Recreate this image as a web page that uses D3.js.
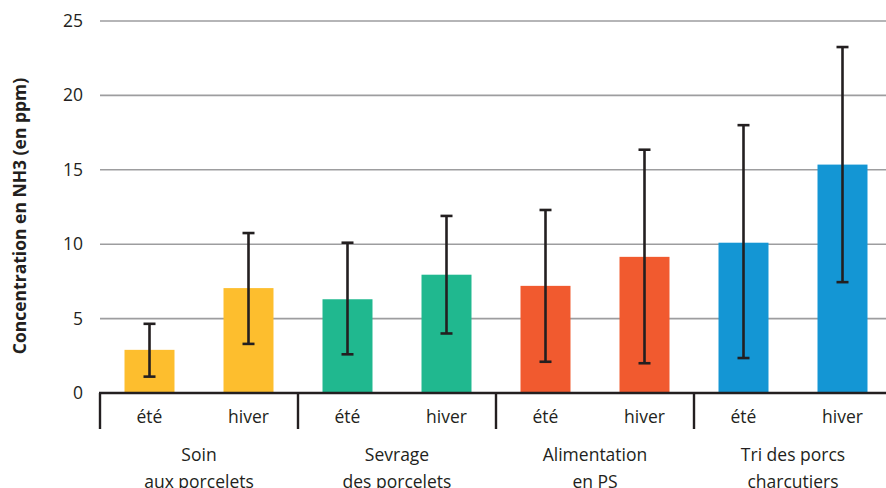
<!DOCTYPE html>
<html>
<head>
<meta charset="utf-8">
<script src="https://cdn.jsdelivr.net/npm/d3@7"></script>
<style>
  body { margin: 0; background: #fff; }
  text { font-family: "Open Sans", "Noto Sans", sans-serif; fill: #231f20; }
</style>
</head>
<body>
<div id="chart"></div>
<script>
var svgWidth = 886;
var svgHeight = 488;

var groups = ["Soin|aux porcelets", "Sevrage|des porcelets", "Alimentation|en PS", "Tri des porcs|charcutiers"];
var seasons = ["été", "hiver"];
var groupColors = ["#fdbe2e", "#20b88f", "#f15a2f", "#1496d4"];

// one entry per bar, in order: group 0 été, group 0 hiver, ...
var means = [2.9, 7.05, 6.3, 7.95, 7.2, 9.15, 10.1, 15.35];
var errLow = [1.1, 3.3, 2.6, 4.0, 2.1, 2.0, 2.35, 7.45];
var errHigh = [4.65, 10.75, 10.1, 11.9, 12.3, 16.35, 18.0, 23.25];

var yTicks = [0, 5, 10, 15, 20, 25];

var margin = { top: 21, left: 100, bottom: 95 };
var plotRight = 892;

var bars = [];
groups.forEach(function (g, gi) {
    seasons.forEach(function (s, si) {
        var i = gi * 2 + si;
        bars.push({ key: i, group: gi, season: s, mean: means[i], lo: errLow[i], hi: errHigh[i] });
    });
});

var svg = d3.select("#chart")
    .append("svg")
    .attr("width", svgWidth)
    .attr("height", svgHeight);

var x = d3.scaleBand()
    .domain(bars.map(d => d.key))
    .range([margin.left, plotRight])
    .paddingInner(0.495)
    .paddingOuter(0.2475);

var xGroup = d3.scaleBand()
    .domain(d3.range(groups.length))
    .range([margin.left, plotRight]);

var y = d3.scaleLinear()
    .domain([0, 25])
    .range([svgHeight - 95, margin.top]);

// gridlines
svg.append("g")
    .selectAll("line")
    .data(yTicks.filter(t => t > 0))
    .enter()
    .append("line")
    .attr("x1", margin.left)
    .attr("x2", svgWidth)
    .attr("y1", d => y(d))
    .attr("y2", d => y(d))
    .attr("stroke", "#9d9d9f")
    .attr("stroke-width", 1.6);

// y tick labels
svg.append("g")
    .selectAll("text")
    .data(yTicks)
    .enter()
    .append("text")
    .attr("x", 83)
    .attr("y", d => y(d) + 6)
    .attr("text-anchor", "end")
    .style("font-size", "17.5px")
    .text(d => d);

// y axis title
svg.append("text")
    .attr("transform", "translate(26," + 216 + ") rotate(-90)")
    .attr("text-anchor", "middle")
    .style("font-size", "17.5px")
    .style("font-weight", "bold")
    .text("Concentration en NH3 (en ppm)");

// bars
svg.append("g")
    .selectAll("rect")
    .data(bars)
    .enter()
    .append("rect")
    .attr("x", d => x(d.key))
    .attr("width", x.bandwidth())
    .attr("y", d => y(d.mean))
    .attr("height", d => y(0) - y(d.mean))
    .attr("fill", d => groupColors[d.group]);

// error bars
var err = svg.append("g")
    .attr("stroke", "#231f20")
    .attr("stroke-width", 2.6);

var cap = 6;
bars.forEach(function (d) {
    var cx = x(d.key) + x.bandwidth() / 2;
    err.append("line")
        .attr("x1", cx).attr("x2", cx)
        .attr("y1", y(d.hi)).attr("y2", y(d.lo));
    err.append("line")
        .attr("x1", cx - cap).attr("x2", cx + cap)
        .attr("y1", y(d.hi)).attr("y2", y(d.hi));
    err.append("line")
        .attr("x1", cx - cap).attr("x2", cx + cap)
        .attr("y1", y(d.lo)).attr("y2", y(d.lo));
});

// baseline + group separators
var axis = svg.append("g")
    .attr("stroke", "#231f20")
    .attr("stroke-width", 2.4);

axis.append("line")
    .attr("x1", margin.left - 1)
    .attr("x2", svgWidth)
    .attr("y1", y(0))
    .attr("y2", y(0));

axis.selectAll(".sep")
    .data(d3.range(groups.length + 1))
    .enter()
    .append("line")
    .attr("class", "sep")
    .attr("x1", d => d < groups.length ? xGroup(d) : plotRight)
    .attr("x2", d => d < groups.length ? xGroup(d) : plotRight)
    .attr("y1", y(0))
    .attr("y2", y(0) + 36);

// season labels
svg.append("g")
    .selectAll("text")
    .data(bars)
    .enter()
    .append("text")
    .attr("x", d => x(d.key) + x.bandwidth() / 2)
    .attr("y", y(0) + 30)
    .attr("text-anchor", "middle")
    .style("font-size", "17.5px")
    .text(d => d.season);

// group labels (two lines)
var gl = svg.append("g")
    .selectAll("text")
    .data(groups)
    .enter()
    .append("text")
    .attr("x", (d, i) => xGroup(i) + xGroup.bandwidth() / 2)
    .attr("y", y(0) + 68)
    .attr("text-anchor", "middle")
    .style("font-size", "17.5px");

gl.each(function (d) {
    var parts = d.split("|");
    var t = d3.select(this);
    parts.forEach(function (p, k) {
        t.append("tspan")
            .attr("x", t.attr("x"))
            .attr("dy", k === 0 ? 0 : 27)
            .text(p);
    });
});
</script>
</body>
</html>
